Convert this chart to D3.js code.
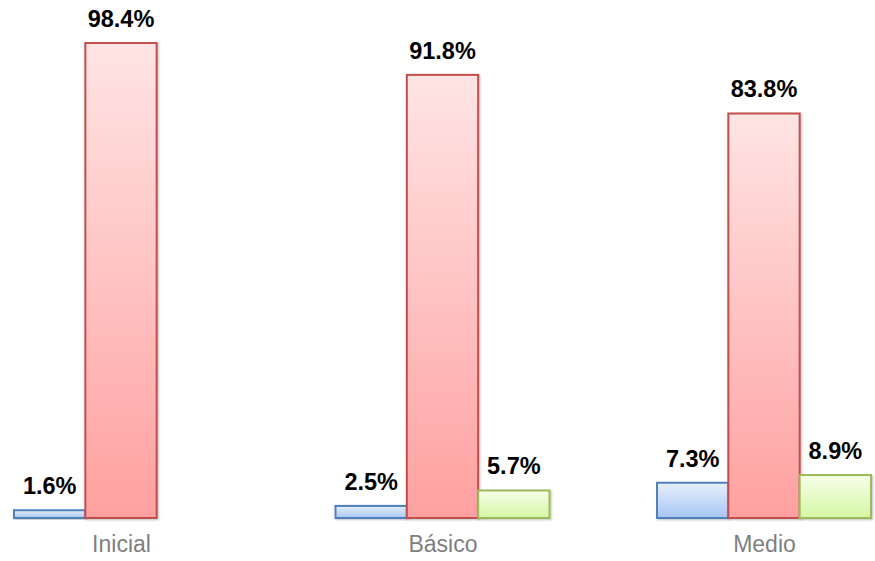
<!DOCTYPE html>
<html>
<head>
<meta charset="utf-8">
<script src="https://cdn.jsdelivr.net/npm/d3@7"></script>
<style>
  body { margin: 0; background: #fff; }
  svg { display: block; font-family: Arial, "Liberation Sans", sans-serif; }
</style>
</head>
<body>
<script>
// chart data
let categories = ['Inicial', 'Básico', 'Medio'];
let seriesNames = ['azul', 'rojo', 'verde'];
let azul = [1.6, 2.5, 7.3];
let rojo = [98.4, 91.8, 83.8];
let verde = [null, 5.7, 8.9];

let width = 875;
let height = 561;
let baseline = 518;

let colors = {
  azul:  { top: '#e8effb', bottom: '#a6c6f6', stroke: '#4f81bd' },
  rojo:  { top: '#ffe4e4', bottom: '#ffa0a0', stroke: '#c0504d' },
  verde: { top: '#f6ffea', bottom: '#d6f6a4', stroke: '#9bbb59' }
};

let values = { azul: azul, rojo: rojo, verde: verde };

let svg = d3.select('body').append('svg')
    .attr('width', width)
    .attr('height', height);

// vertical gradients, light on top
let defs = svg.append('defs');
seriesNames.forEach(function(s){
  let g = defs.append('linearGradient')
      .attr('id', 'grad-' + s)
      .attr('x1', 0).attr('y1', 0).attr('x2', 0).attr('y2', 1);
  g.append('stop').attr('offset', '0%').attr('stop-color', colors[s].top);
  g.append('stop').attr('offset', '100%').attr('stop-color', colors[s].bottom);
});

// soft shadow under the bars
let shadow = defs.append('filter').attr('id', 'shadow')
    .attr('x', '-10%').attr('y', '-10%').attr('width', '130%').attr('height', '130%');
shadow.append('feDropShadow')
    .attr('dx', 1).attr('dy', 1).attr('stdDeviation', 1.2)
    .attr('flood-color', '#000').attr('flood-opacity', 0.25);

// x: category centers, inner band for the series
let x = d3.scalePoint().domain(categories).range([121, 764]);
let xInner = d3.scaleBand().domain(seriesNames).range([-107, 107]);

// y scale
let y = d3.scaleLinear().domain([0, 100]).range([baseline, baseline - 482.7]);

let rows = [];
categories.forEach(function(c, i){
  seriesNames.forEach(function(s){
    if (values[s][i] != null) rows.push({ cat: c, series: s, value: values[s][i] });
  });
});

let bars = svg.append('g');
bars.selectAll('rect')
    .data(rows)
  .enter().append('rect')
    .attr('x', function(d){ return x(d.cat) + xInner(d.series); })
    .attr('y', function(d){ return y(d.value); })
    .attr('width', xInner.bandwidth())
    .attr('height', function(d){ return baseline - y(d.value); })
    .attr('fill', function(d){ return 'url(#grad-' + d.series + ')'; })
    .attr('stroke', function(d){ return colors[d.series].stroke; })
    .attr('stroke-width', 2)
    .attr('filter', 'url(#shadow)');

// value labels
svg.append('g').selectAll('text')
    .data(rows)
  .enter().append('text')
    .attr('x', function(d){ return x(d.cat) + xInner(d.series) + xInner.bandwidth() / 2; })
    .attr('y', function(d){ return y(d.value) - 16; })
    .attr('text-anchor', 'middle')
    .attr('font-size', '23.5px')
    .attr('font-weight', 'bold')
    .attr('fill', '#000')
    .text(function(d){ return d.value.toFixed(1) + '%'; });

// category labels via axis
let xAxis = d3.axisBottom(x).tickSize(0).tickPadding(0);
let axisG = svg.append('g')
    .attr('transform', 'translate(0,' + (baseline + 18) + ')')
    .call(xAxis);
axisG.select('.domain').remove();
axisG.selectAll('text')
    .attr('font-size', '23px')
    .attr('font-family', 'Arial, "Liberation Sans", sans-serif')
    .attr('fill', '#7f7f7f')
    .attr('dy', '0.71em');
</script>
</body>
</html>
